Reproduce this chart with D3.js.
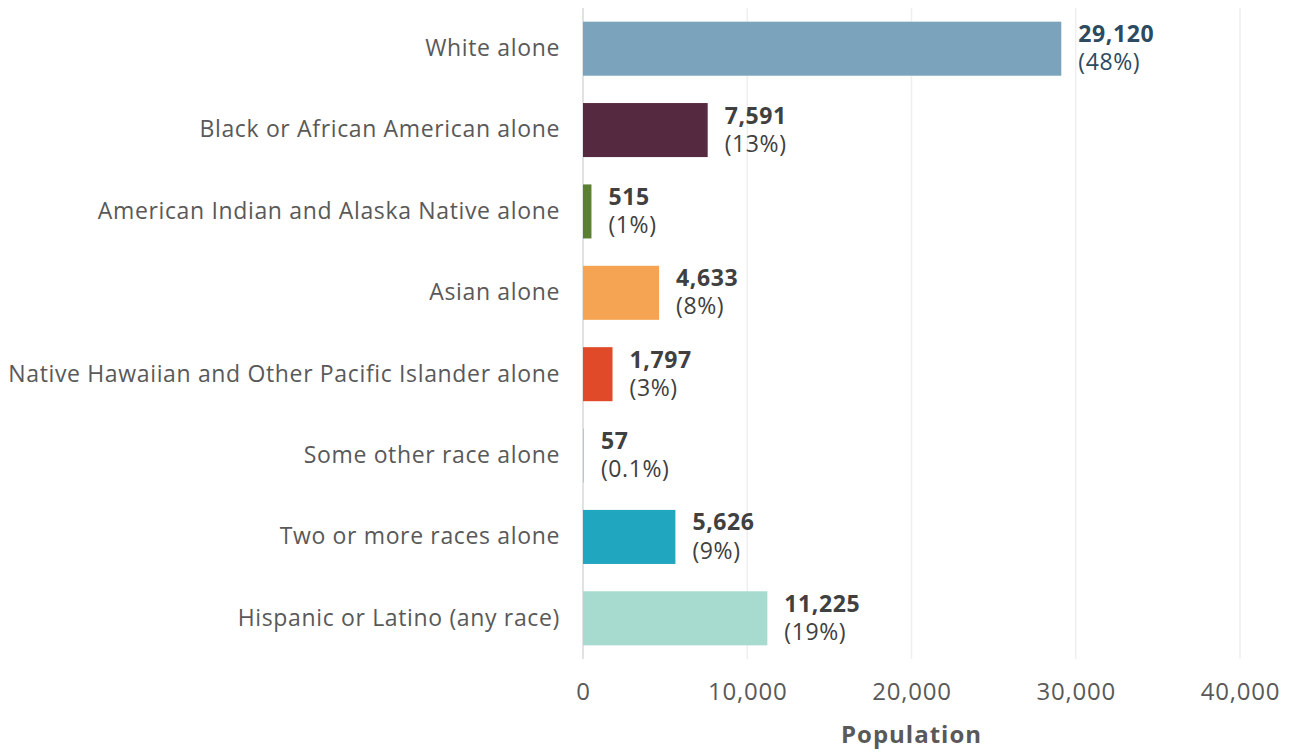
<!DOCTYPE html>
<html>
<head>
<meta charset="utf-8">
<script src="https://cdn.jsdelivr.net/npm/d3@7"></script>
<style>
  html, body { margin: 0; padding: 0; background: #ffffff; }
  svg { display: block; }
  text { font-family: "Open Sans", "DejaVu Sans", sans-serif; }
</style>
</head>
<body>
<svg id="chart" width="1296" height="753"></svg>
<script>
// Population by race / ethnicity
const categories = [
  "White alone",
  "Black or African American alone",
  "American Indian and Alaska Native alone",
  "Asian alone",
  "Native Hawaiian and Other Pacific Islander alone",
  "Some other race alone",
  "Two or more races alone",
  "Hispanic or Latino (any race)"
];
const populations = [29120, 7591, 515, 4633, 1797, 57, 5626, 11225];
const shares = ["48%", "13%", "1%", "8%", "3%", "0.1%", "9%", "19%"];
const barColors = ["#7ba3bb", "#55293f", "#5b8034", "#f4a452", "#e04a28", "#b9c6d3", "#20a6be", "#a8dbcf"];
const valueColors = ["#2c4a60", "#404040", "#404040", "#404040", "#404040", "#404040", "#404040", "#404040"];
const xTicks = [0, 10000, 20000, 30000, 40000];
const xTitle = "Population";

const svg = d3.select("#chart");
const margin = { top: 8, right: 56, bottom: 94, left: 583 };
const width = 1296 - margin.left - margin.right;
const height = 753 - margin.top - margin.bottom;

const g = svg.append("g").attr("transform", `translate(${margin.left},${margin.top})`);

const x = d3.scaleLinear().domain([0, 40000]).range([0, width]);
const y = d3.scaleBand().domain(categories).range([0, height]).paddingInner(0.336).paddingOuter(0.168);

// vertical gridlines
g.append("g")
  .selectAll("line")
  .data(xTicks)
  .join("line")
  .attr("x1", d => x(d)).attr("x2", d => x(d))
  .attr("y1", 0).attr("y2", height)
  .attr("stroke", d => d === 0 ? "#d9d9d9" : "#efefef")
  .attr("stroke-width", 1.5);

// bars
g.append("g")
  .selectAll("rect")
  .data(categories)
  .join("rect")
  .attr("x", x(0))
  .attr("y", d => y(d))
  .attr("width", (d, i) => Math.max(1, x(populations[i]) - x(0)))
  .attr("height", y.bandwidth())
  .attr("fill", (d, i) => barColors[i]);

// category labels
const yAxis = g.append("g")
  .call(d3.axisLeft(y).tickSize(0).tickPadding(23));
yAxis.select(".domain").remove();
yAxis.selectAll("text")
  .attr("font-size", 23)
  .attr("letter-spacing", "0.65px")
  .attr("fill", "#595959")
  .style("font-family", "'Open Sans', sans-serif");

// value labels
const labels = g.append("g")
  .selectAll("text")
  .data(categories)
  .join("text")
  .attr("x", (d, i) => x(populations[i]) + 17)
  .attr("y", d => y(d) + y.bandwidth() / 2)
  .attr("font-size", 23)
  .attr("letter-spacing", "0.6px");
labels.append("tspan")
  .attr("x", (d, i) => x(populations[i]) + 17)
  .attr("dy", "-0.28em")
  .attr("font-weight", "bold")
  .attr("fill", (d, i) => valueColors[i])
  .text((d, i) => d3.format(",")(populations[i]));
labels.append("tspan")
  .attr("x", (d, i) => x(populations[i]) + 17)
  .attr("dy", "1.22em")
  .attr("fill", (d, i) => i === 0 ? "#2c4a60" : "#404040")
  .text((d, i) => `(${shares[i]})`);

// x axis
const xAxis = g.append("g")
  .attr("transform", `translate(0,${height})`)
  .call(d3.axisBottom(x).tickValues(xTicks).tickFormat(d3.format(",")).tickSize(0).tickPadding(24));
xAxis.select(".domain").remove();
xAxis.selectAll("text")
  .attr("font-size", 24)
  .attr("letter-spacing", "0.8px")
  .attr("fill", "#595959")
  .style("font-family", "'Open Sans', sans-serif");

// axis title
g.append("text")
  .attr("x", width / 2)
  .attr("y", height + 84)
  .attr("text-anchor", "middle")
  .attr("font-size", 24)
  .attr("font-weight", "bold")
  .attr("letter-spacing", "1px")
  .attr("fill", "#595959")
  .text(xTitle);
</script>
</body>
</html>
